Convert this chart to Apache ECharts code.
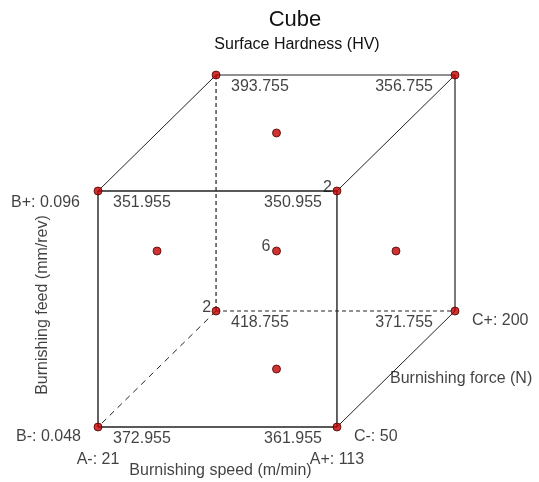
<!DOCTYPE html>
<html><head><meta charset="utf-8">
<script src="https://cdn.jsdelivr.net/npm/echarts@6/dist/echarts.min.js"></script>
<style>html,body{margin:0;padding:0;background:#fff}#c{width:539px;height:482px}</style>
</head><body><div id="c"></div>
<script>
// ---- data ----
const titleText = 'Cube';
const subtitleText = 'Surface Hardness (HV)';
const factorNames = ['Burnishing speed (m/min)', 'Burnishing feed (mm/rev)', 'Burnishing force (N)'];
const factorCodes = ['A', 'B', 'C'];
const factorLow = [21, 0.048, 50];
const factorHigh = [113, 0.096, 200];
// coded levels [A, B, C] of the cube corners
const cornerLevels = [[-1,1,-1],[1,1,-1],[-1,1,1],[1,1,1],[-1,-1,1],[1,-1,1],[-1,-1,-1],[1,-1,-1]];
const cornerResponses = [351.955, 350.955, 393.755, 356.755, 418.755, 371.755, 372.955, 361.955];
const cornerRuns = [1, 2, 1, 1, 2, 1, 1, 1];
// face-centre and centre design points
const innerLevels = [[0,1,0],[-1,0,0],[1,0,0],[0,-1,0],[0,0,0]];
const innerRuns = [1, 1, 1, 1, 6];

// ---- projection (style) ----
const DEPTH_X = 0.494, DEPTH_Y = 0.4915;
function proj(l){ return [(l[0]+1)/2 + DEPTH_X*(l[2]+1)/2, (l[1]+1)/2 + DEPTH_Y*(l[2]+1)/2]; }
const FONT = 'Liberation Sans, Arial, sans-serif';
const TXT = '#111';
const hiddenCorner = [-1,-1,1];
const same = (a,b)=>a[0]===b[0]&&a[1]===b[1]&&a[2]===b[2];

const series = [];
// edges
for (let i=0;i<cornerLevels.length;i++) for (let j=i+1;j<cornerLevels.length;j++) {
  const p=cornerLevels[i], q=cornerLevels[j];
  let diff=0, axis=-1; for(let k=0;k<3;k++) if(p[k]!==q[k]){diff++;axis=k;}
  if (diff!==1) continue;
  const hidden = same(p,hiddenCorner)||same(q,hiddenCorner);
  const front = p[2]===-1 && q[2]===-1;
  series.push({type:'line', data:[proj(p),proj(q)], symbol:'none', silent:true, clip:false, z:1,
    lineStyle:{color: '#222', width: front?1.4:(axis===2?1:1.2),
      type: hidden ? (axis===2 ? [6,5] : [4,3]) : 'solid'}});
}
// points
const pts = cornerLevels.concat(innerLevels).map(proj);
series.push({type:'scatter', data:pts, symbol:'circle', symbolSize:8, z:5, clip:false, silent:true,
  itemStyle:{color:'#c00000', borderColor:'#500000', borderWidth:1}});

// labels
const labels = [];
function addLabel(levels, text, dx, dy, align, rotate){
  labels.push({value: proj(levels), label:{show:true, formatter:text, position:[dx,dy], align:align,
    verticalAlign:'middle', rotate: rotate||0}});
}
cornerLevels.forEach((l,i)=>{
  const txt = cornerResponses[i].toFixed(3);
  if (l[0]===-1) addLabel(l, txt, 15, 12, 'left');
  else addLabel(l, txt, l[2]===-1 ? -15 : -22, 12, 'right');
  if (cornerRuns[i]>1) addLabel(l, String(cornerRuns[i]), -5, -3, 'right');
});
innerLevels.forEach((l,i)=>{ if(innerRuns[i]>1) addLabel(l, String(innerRuns[i]), -6, -4, 'right'); });
// factor level labels
addLabel([-1,1,-1], factorCodes[1]+'+: '+factorHigh[1], -18, 12, 'right');
addLabel([-1,-1,-1], factorCodes[1]+'-: '+factorLow[1], -17, 10, 'right');
addLabel([-1,-1,-1], factorCodes[0]+'-: '+factorLow[0], 0, 33, 'center');
addLabel([1,-1,-1], factorCodes[0]+'+: '+factorHigh[0], 0, 33, 'center');
addLabel([1,-1,-1], factorCodes[2]+'-: '+factorLow[2], 17, 10, 'left');
addLabel([1,-1,1], factorCodes[2]+'+: '+factorHigh[2], 17, 10, 'left');
// factor names
addLabel([0,-1,-1], factorNames[0], 3, 44, 'center');
addLabel([-1,0,-1], factorNames[1], -55, -4, 'center', 90);
addLabel([1,-1,0], factorNames[2], -6, 10, 'left');

series.push({type:'scatter', data:labels, symbolSize:0, z:6, clip:false, silent:true,
  label:{color:TXT, fontSize:16, fontFamily:FONT}});

const chart = echarts.init(document.getElementById('c'), null, {renderer:'canvas'});
chart.setOption({
  animation:false,
  backgroundColor:'#fff',
  graphic:[
    {type:'text', x:295, y:20, style:{text:titleText, textAlign:'center', textVerticalAlign:'middle', fill:TXT, font:'22px '+FONT}},
    {type:'text', x:297, y:45, style:{text:subtitleText, textAlign:'center', textVerticalAlign:'middle', fill:TXT, font:'16px '+FONT}}
  ],
  grid:{left:98, top:75, width:357, height:352},
  xAxis:{type:'value', min:0, max:1+DEPTH_X, show:false},
  yAxis:{type:'value', min:0, max:1+DEPTH_Y, show:false},
  series:series
});
</script></body></html>
